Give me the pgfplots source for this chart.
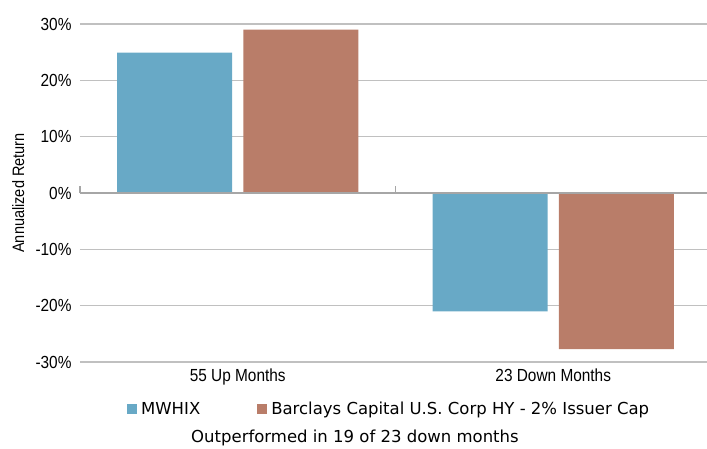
\documentclass[border=0pt]{standalone}
\usepackage{pgfplots}
\pgfplotsset{compat=1.18}
\usepackage{fontspec}
\setmainfont{Liberation Sans}
\newfontfamily\narrowfont[FakeStretch=0.88]{Liberation Sans}
\newfontfamily\legfont{DejaVu Sans}
\definecolor{cblue}{HTML}{68A9C6}
\definecolor{cbrown}{HTML}{B97D69}
\definecolor{gridc}{HTML}{C0C0C0}
\definecolor{zeroc}{HTML}{A6A6A6}
\begin{document}
\begin{tikzpicture}[x=1pt,y=1pt]
\path[use as bounding box] (-80,-86) rectangle (627,362);
\begin{axis}[
  at={(0,0)}, anchor=south west,
  scale only axis, width=631pt, height=338pt,
  xmin=-0.5, xmax=1.5, ymin=-30, ymax=30,
  axis line style={draw=none},
  xtick={0,1}, xticklabels={55 Up Months,23 Down Months},
  ytick={-30,-20,...,30},
  yticklabel={\pgfmathprintnumber{\tick}\%},
  /pgf/number format/assume math mode=true,
  tick label style={font=\narrowfont\fontsize{17.5}{20}\selectfont},
  major tick length=0pt,
  yticklabel style={xshift=-5pt},
  xticklabel style={yshift=-3pt},
  ymajorgrids, grid style={gridc, line width=1.2pt},
  ylabel={Annualized Return},
  ylabel style={font=\narrowfont\fontsize{16.5}{18}\selectfont, at={(axis description cs:-0.0978,0.5)}, anchor=center},
  legend columns=2,
  legend style={draw=none, fill=none, at={(0.0697,-0.139)}, anchor=west,
    font=\legfont\fontsize{16.5}{18}\selectfont,
    /tikz/every odd column/.append style={column sep=2pt},
    /tikz/every even column/.append style={column sep=55pt}},
  legend image code/.code={\fill[#1] (0pt,-5pt) rectangle (10pt,5pt);},
  clip=false,
]
\addplot[ybar, bar width=0.3645, bar shift=-0.2, fill=cblue, draw=none] coordinates {(0,24.9) (1,-21.0)};
\addlegendentry{MWHIX}
\addplot[ybar, bar width=0.3645, bar shift=0.2, fill=cbrown, draw=none] coordinates {(0,29.0) (1,-27.7)};
\addlegendentry{Barclays Capital U.S. Corp HY - 2\% Issuer Cap}
\draw[zeroc, line width=1.8pt] (axis cs:-0.5,0) -- (axis cs:1.5,0);
\draw[zeroc, line width=1.2pt] (axis cs:-0.5,0) -- ++(0pt,7pt);
\draw[zeroc, line width=1.2pt] (axis cs:0.5,0) -- ++(0pt,7pt);
\node[font=\legfont\fontsize{16.5}{18}\selectfont] at (rel axis cs:0.4358,-0.225) {Outperformed in 19 of 23 down months};
\end{axis}
\end{tikzpicture}
\end{document}
